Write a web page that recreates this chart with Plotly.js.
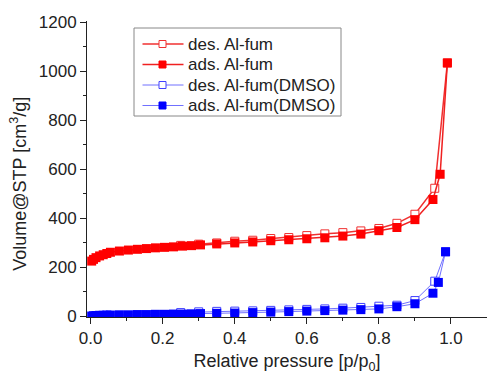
<!DOCTYPE html>
<html><head><meta charset="utf-8">
<script src="https://cdn.plot.ly/plotly-3.0.1.min.js"></script>
<style>html,body{margin:0;padding:0;background:#fff}#c{width:487px;height:374px}</style>
</head><body><div id="c"></div>
<script>
const redAdsX = [0.003,0.008,0.015,0.025,0.035,0.045,0.055,0.08,0.105,0.13,0.155,0.18,0.205,0.23,0.255,0.28,0.305,0.35,0.40,0.45,0.50,0.55,0.60,0.65,0.70,0.75,0.80,0.85,0.90,0.95,0.97,0.99];
const redAdsY = [226,233,240,247,252,257,262,267,271,274,277,280,282,284,287,289,292,296,300,304,309,313,317,321,328,336,350,363,395,477,580,1034];
const redDesX = [0.99,0.955,0.90,0.85,0.80,0.75,0.70,0.65,0.60,0.55,0.50,0.45,0.40,0.35,0.30,0.25];
const redDesY = [1034,523,417,380,359,349,342,337,330,322,318,311,307,300,295,290];
const blueAdsX = [0.003,0.008,0.015,0.025,0.035,0.045,0.055,0.08,0.105,0.13,0.155,0.18,0.205,0.23,0.255,0.28,0.305,0.35,0.40,0.45,0.50,0.55,0.60,0.65,0.70,0.75,0.80,0.85,0.90,0.95,0.965,0.985];
const blueAdsY = [2,3,4,5,5,6,6,7,7,8,8,9,9,10,10,11,12,13,14,16,18,20,22,24,26,28,31,40,52,95,139,264];
const blueDesX = [0.985,0.955,0.90,0.85,0.80,0.75,0.70,0.65,0.60,0.55,0.50,0.45,0.40,0.35,0.30,0.25];
const blueDesY = [264,144,65,46,42,37,34,31,29,27,25,23,22,21,19,16];
const names = ['des. Al-fum','ads. Al-fum','des. Al-fum(DMSO)','ads. Al-fum(DMSO)'];
const xTicks = [0,0.2,0.4,0.6,0.8,1.0];
const xTickText = ['0.0','0.2','0.4','0.6','0.8','1.0'];
const yTicks = [0,200,400,600,800,1000,1200];

const styles = [
  {line:{color:'#f03030',width:1.5},marker:{symbol:'square',size:8,color:'#ffffff',line:{color:'#f03030',width:1}}},
  {line:{color:'#f02020',width:1.5},marker:{symbol:'square',size:9,color:'#ff0000',line:{width:0}}},
  {line:{color:'#7070ff',width:1},marker:{symbol:'square',size:8,color:'#ffffff',line:{color:'#4040ff',width:1}}},
  {line:{color:'#7070ff',width:1},marker:{symbol:'square',size:9,color:'#0000ff',line:{width:0}}}
];
const data = [[redDesX,redDesY],[redAdsX,redAdsY],[blueDesX,blueDesY],[blueAdsX,blueAdsY]];
const traces = data.map((d,i)=>({x:d[0],y:d[1],name:names[i],mode:'lines+markers',showlegend:false,
  line:styles[i].line,marker:styles[i].marker}));

const fnt = {family:'Liberation Sans, Arial, sans-serif',size:17,color:'#222'};
const fntT = {family:'Liberation Sans, Arial, sans-serif',size:18,color:'#222'};

// manual legend (plot area: left 87, width 400, bottom 317, height 296)
const px = v => (v-87)/400, py = v => (317-v)/296;
const shapes = [{type:'rect',xref:'paper',yref:'paper',x0:px(134),x1:px(341),y0:py(116),y1:py(28),
  line:{color:'#888',width:1},fillcolor:'#ffffff',layer:'above'}];
const annotations = [];
const rows = [44,64.5,85,105.5];
rows.forEach((r,i)=>{
  const s = styles[i];
  shapes.push({type:'line',xref:'paper',yref:'paper',x0:px(142.5),x1:px(183.5),y0:py(r),y1:py(r),
    line:{color:s.line.color,width:s.line.width},layer:'above'});
  shapes.push({type:'rect',xref:'paper',yref:'paper',xsizemode:'pixel',ysizemode:'pixel',
    xanchor:px(162.5),yanchor:py(r),x0:-3.5,x1:3.5,y0:-3.5,y1:3.5,
    fillcolor:s.marker.color,line:{color:s.marker.line.color||s.marker.color,width:1},layer:'above'});
  annotations.push({text:names[i],xref:'paper',yref:'paper',x:px(186),y:py(r),xanchor:'left',yanchor:'middle',
    showarrow:false,font:fnt});
});
annotations.push({text:'Volume@STP [cm<sup>3</sup>/g]',xref:'paper',yref:'paper',x:-0.17,y:0.45,textangle:-90,
    showarrow:false,font:fntT,xanchor:'center',yanchor:'middle'});

const layout = {
  width:487,height:374,margin:{l:87,r:0,t:21,b:57,pad:0},
  paper_bgcolor:'#fff',plot_bgcolor:'#fff',font:fnt,showlegend:false,
  xaxis:{range:[-0.01,1.1],tickvals:xTicks,ticktext:xTickText,
    ticks:'outside',ticklen:6,tickwidth:1,tickcolor:'#222',showline:true,linecolor:'#222',linewidth:1,
    showgrid:false,zeroline:false,tickfont:fnt,
    minor:{dtick:0.1,tick0:0,ticks:'outside',ticklen:3,tickcolor:'#222',showgrid:false},
    title:{text:'Relative pressure [p/p<sub>0</sub>]',font:fntT,standoff:8}},
  yaxis:{range:[-2,1205],tickvals:yTicks,ticks:'outside',ticklen:6,tickwidth:1,tickcolor:'#222',
    showline:true,linecolor:'#222',linewidth:1,showgrid:false,zeroline:false,tickfont:fnt,
    minor:{dtick:100,tick0:0,ticks:'outside',ticklen:3,tickcolor:'#222',showgrid:false}},
  shapes:shapes,annotations:annotations
};
Plotly.newPlot('c',traces,layout,{displayModeBar:false,staticPlot:true});
</script></body></html>
